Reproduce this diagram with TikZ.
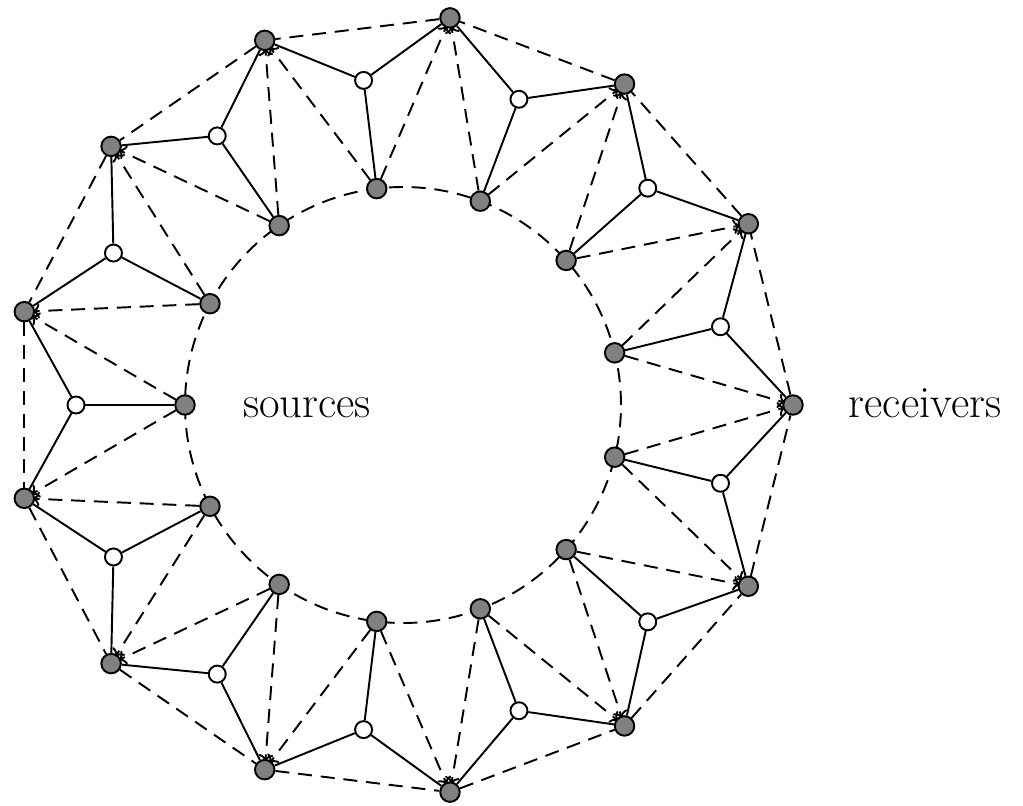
\documentclass[tikz,border=0pt]{standalone}
\usetikzlibrary{backgrounds,arrows.meta}
\begin{document}
\begin{tikzpicture}[x=0.02cm,y=0.02cm,
  src/.style={circle,draw,fill=gray,line width=1.1pt,minimum size=0.39cm,inner sep=0pt},
  rcv/.style={src},
  relay/.style={circle,draw,fill=white,line width=1.1pt,minimum size=0.34cm,inner sep=0pt},
  solidlink/.style={line width=1.1pt},
  dashlink/.style={line width=1.1pt,dash pattern=on 8pt off 5pt},
  arrowlink/.style={dashlink,-{To},shorten >=-1.4pt},
  lbl/.style={font=\fontsize{25.5}{30}\selectfont,anchor=base}]
\useasboundingbox (-403,-400) rectangle (620,405);
\foreach \k in {0,...,12}{
  \node[src] (i\k) at ({180+\k*360/13}:218) {};
  \node[relay] (w\k) at ({180+\k*360/13}:327) {};
  \node[rcv] (o\k) at ({\k*360/13}:390) {};
}
\begin{scope}[on background layer]
  \draw[dashlink] (0,0) circle (218);
  \foreach \k in {0,...,12}{
    \pgfmathtruncatemacro{\a}{mod(\k+6,13)}
    \pgfmathtruncatemacro{\b}{mod(\k+7,13)}
    \draw[dashlink] (o\a) -- (o\b);
    \draw[arrowlink] (i\k) -- (o\a);
    \draw[arrowlink] (i\k) -- (o\b);
    \draw[solidlink] (i\k) -- (w\k);
    \draw[solidlink] (w\k) -- (o\a);
    \draw[solidlink] (w\k) -- (o\b);
  }
\end{scope}
\node[lbl] (srclabel) at (-96,-12) {sources};
\node[lbl] (rcvlabel) at (522,-12) {receivers};
\end{tikzpicture}
\end{document}
